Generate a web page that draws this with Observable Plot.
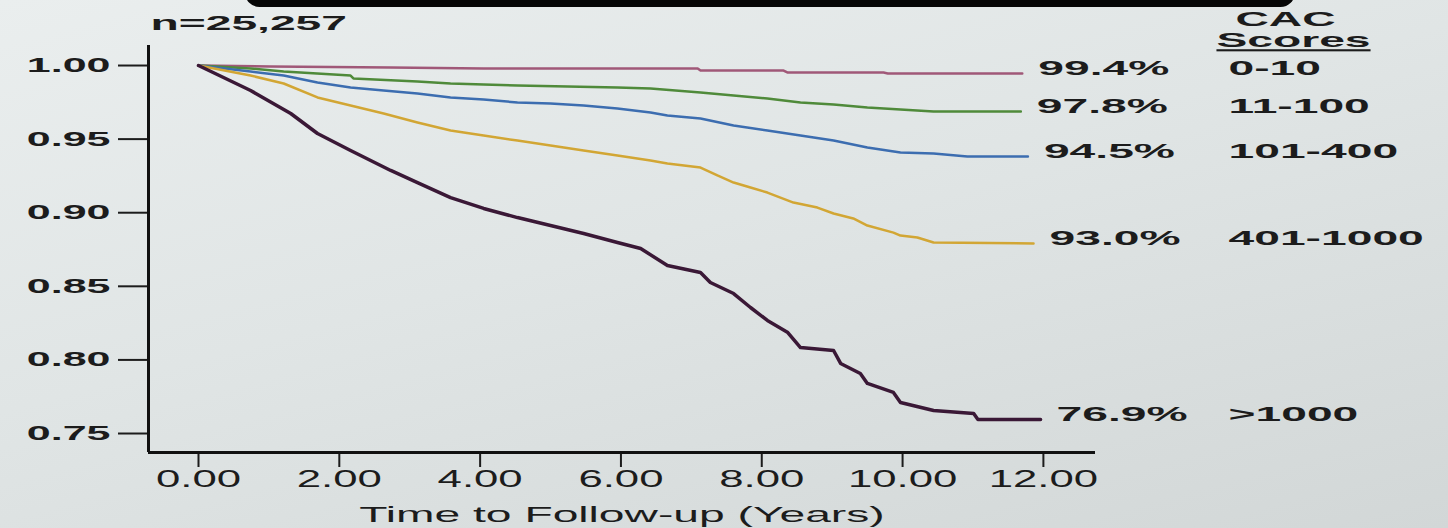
<!DOCTYPE html>
<html><head><meta charset="utf-8">
<script src="https://cdn.jsdelivr.net/npm/d3@7"></script>
<script src="https://cdn.jsdelivr.net/npm/@observablehq/plot@0.6"></script>
<style>
html,body{margin:0;padding:0;width:1448px;height:528px;overflow:hidden;}
body{position:relative;background:linear-gradient(165deg,#eaeeee 0%,#e0e5e5 45%,#d2d7d7 100%);font-family:"Liberation Sans",Arial,sans-serif;}
#band{position:absolute;left:245px;top:-22px;width:1050px;height:29px;border-radius:22px;background:#060606;}
#chart{position:absolute;left:0;top:0;}
</style></head><body>
<div id="band"></div>
<div id="chart"></div>
<script>
// ---- data ----
const groups = ["0-10", "11-100", "101-400", "401-1000", ">1000"];
const pctLabels = ["99.4%", "97.8%", "94.5%", "93.0%", "76.9%"];
const nLabel = "n=25,257";
const legendTitle = ["CAC", "Scores"];
const xTitle = "Time to Follow-up (Years)";
const xTicks = [0, 2, 4, 6, 8, 10, 12];
const yTicks = [0.75, 0.80, 0.85, 0.90, 0.95, 1.00];

const t_0_10 = [0, 1.02, 2.73, 4.05, 7.09, 7.13, 8.31, 8.37, 9.73, 9.79, 11.70];
const s_0_10 = [1, 0.9993, 0.9986, 0.998, 0.998, 0.9966, 0.9966, 0.9952, 0.9952, 0.9946, 0.9946];

const t_11_100 = [0, 0.74, 1.21, 2.16, 2.20, 3.11, 3.58, 4.05, 4.53, 5.24, 5.95, 6.42, 7.13, 7.60, 8.08, 8.55, 9.02, 9.50, 9.97, 10.44, 11.68];
const s_11_100 = [1, 0.998, 0.9959, 0.9932, 0.9912, 0.9891, 0.9878, 0.9871, 0.9864, 0.9857, 0.9851, 0.9844, 0.9817, 0.9796, 0.9776, 0.9749, 0.9735, 0.9715, 0.9701, 0.9688, 0.9688];

const t_101_400 = [0, 0.74, 1.21, 1.69, 2.16, 2.63, 3.11, 3.58, 4.05, 4.53, 5.00, 5.47, 5.95, 6.42, 6.66, 7.13, 7.60, 8.08, 8.55, 9.02, 9.50, 9.97, 10.44, 10.92, 11.78];
const s_101_400 = [1, 0.9959, 0.9932, 0.9885, 0.9851, 0.983, 0.981, 0.9783, 0.9769, 0.9749, 0.9742, 0.9728, 0.9708, 0.9681, 0.966, 0.964, 0.9592, 0.9558, 0.9524, 0.949, 0.9443, 0.9409, 0.9402, 0.9382, 0.9382];

const t_401_1000 = [0, 0.74, 1.21, 1.69, 2.16, 2.63, 3.11, 3.58, 4.05, 4.53, 5.00, 5.47, 5.95, 6.42, 6.66, 7.13, 7.37, 7.60, 7.84, 8.08, 8.45, 8.79, 9.02, 9.30, 9.50, 9.87, 9.97, 10.21, 10.44, 11.86];
const s_401_1000 = [1, 0.9932, 0.9878, 0.9783, 0.9728, 0.9674, 0.9613, 0.9558, 0.9524, 0.949, 0.9457, 0.9423, 0.9389, 0.9355, 0.9334, 0.9307, 0.9253, 0.9205, 0.9171, 0.9137, 0.9069, 0.9035, 0.8995, 0.8961, 0.8913, 0.8865, 0.8845, 0.8832, 0.8798, 0.8791];

const t_gt1000 = [0, 0.74, 1.31, 1.69, 2.16, 2.73, 3.11, 3.58, 4.05, 4.53, 5.00, 5.47, 5.95, 6.28, 6.66, 7.13, 7.27, 7.60, 7.84, 8.08, 8.37, 8.55, 9.02, 9.12, 9.40, 9.50, 9.87, 9.97, 10.44, 11.01, 11.07, 11.96];
const s_gt1000 = [1, 0.983, 0.9674, 0.9538, 0.9423, 0.9287, 0.9205, 0.9103, 0.9029, 0.8967, 0.8913, 0.8859, 0.8798, 0.8757, 0.8641, 0.8594, 0.8526, 0.8451, 0.8356, 0.8268, 0.8186, 0.8084, 0.8064, 0.7976, 0.7908, 0.784, 0.7779, 0.7711, 0.7656, 0.7636, 0.7595, 0.7595];

const colors = ["#a05878", "#4f8a3a", "#3c6db0", "#d2a634", "#3a1836"];
const xDomain = [-0.71, 12.74];
const yDomain = [0.7371, 1.0136];

// ---- build ----
const series = [[t_0_10, s_0_10], [t_11_100, s_11_100], [t_101_400, s_101_400], [t_401_1000, s_401_1000], [t_gt1000, s_gt1000]];
const table = [];
series.forEach(([ts, vs], i) => ts.forEach((t, j) => table.push({group: groups[i], t, v: vs[j]})));
const ends = series.map(([ts, vs], i) => ({group: groups[i], pct: pctLabels[i], t: ts[ts.length - 1], v: vs[vs.length - 1]}));
const fmt = d3.format(".2f");
const ink = "#1c1c1c";

const svg = Plot.plot({
  width: 1448, height: 528,
  marginLeft: 148, marginRight: 353, marginTop: 45, marginBottom: 76,
  style: {background: "transparent", fontFamily: "'Liberation Sans', Arial, sans-serif", color: ink},
  x: {domain: xDomain},
  y: {domain: yDomain},
  color: {domain: groups, range: colors},
  marks: [
    Plot.axisY({ticks: yTicks, tickSize: 30, tickPadding: 8, tickFormat: fmt, fontSize: 20, fontWeight: "bold", strokeWidth: 2, label: null}),
    Plot.axisX({ticks: xTicks, tickSize: 15, tickPadding: 3, tickFormat: fmt, fontSize: 23, strokeWidth: 2, label: null}),
    Plot.ruleX([xDomain[0]], {stroke: "#111", strokeWidth: 3}),
    Plot.ruleY([yDomain[0]], {stroke: "#111", strokeWidth: 3}),
    Plot.line(table.filter(d => d.group !== ">1000"), {x: "t", y: "v", z: "group", stroke: "group", strokeWidth: 2.5}),
    Plot.line(table.filter(d => d.group === ">1000"), {x: "t", y: "v", z: "group", stroke: "group", strokeWidth: 3.5}),
    Plot.text(ends, {x: "t", y: "v", text: "pct", textAnchor: "start", lineAnchor: "middle", dx: 16, dy: -5, fontSize: 21, fontWeight: "bold", fill: ink}),
    Plot.text(ends, {y: "v", text: "group", frameAnchor: "right", textAnchor: "start", lineAnchor: "middle", dx: 133, dy: -5, fontSize: 21, fontWeight: "bold", fill: ink}),
    Plot.text([nLabel], {frameAnchor: "top-left", textAnchor: "start", lineAnchor: "middle", dx: 2, dy: -22, fontSize: 21, fontWeight: "bold", fill: ink}),
    Plot.text([legendTitle[0]], {frameAnchor: "top-right", textAnchor: "middle", lineAnchor: "middle", dx: 190, dy: -26, fontSize: 21, fontWeight: "bold", fill: ink}),
    Plot.text([legendTitle[1]], {frameAnchor: "top-right", textAnchor: "middle", lineAnchor: "middle", dx: 198, dy: -5, fontSize: 21, fontWeight: "bold", fill: ink}),
    Plot.text([xTitle], {frameAnchor: "bottom", lineAnchor: "middle", dy: 62, fontSize: 22, fill: ink})
  ]
});
document.getElementById("chart").append(svg);

// widen glyphs to match the reference's stretched lettering (text stays real text)
svg.querySelectorAll("text").forEach(el => {
  const parentLabel = (el.parentNode && el.parentNode.getAttribute("aria-label")) || "";
  let k = 2.2;
  if (parentLabel.includes("y-axis")) k = 2.15;
  else if (parentLabel.includes("x-axis")) k = 1.9;
  else if (el.textContent === xTitle) k = 2.1;
  const w = el.getComputedTextLength();
  if (w > 0) {
    el.setAttribute("textLength", (w * k).toFixed(1));
    el.setAttribute("lengthAdjust", "spacingAndGlyphs");
  }
  if (el.textContent === legendTitle[1]) el.setAttribute("text-decoration", "underline");
});
</script>
</body></html>
